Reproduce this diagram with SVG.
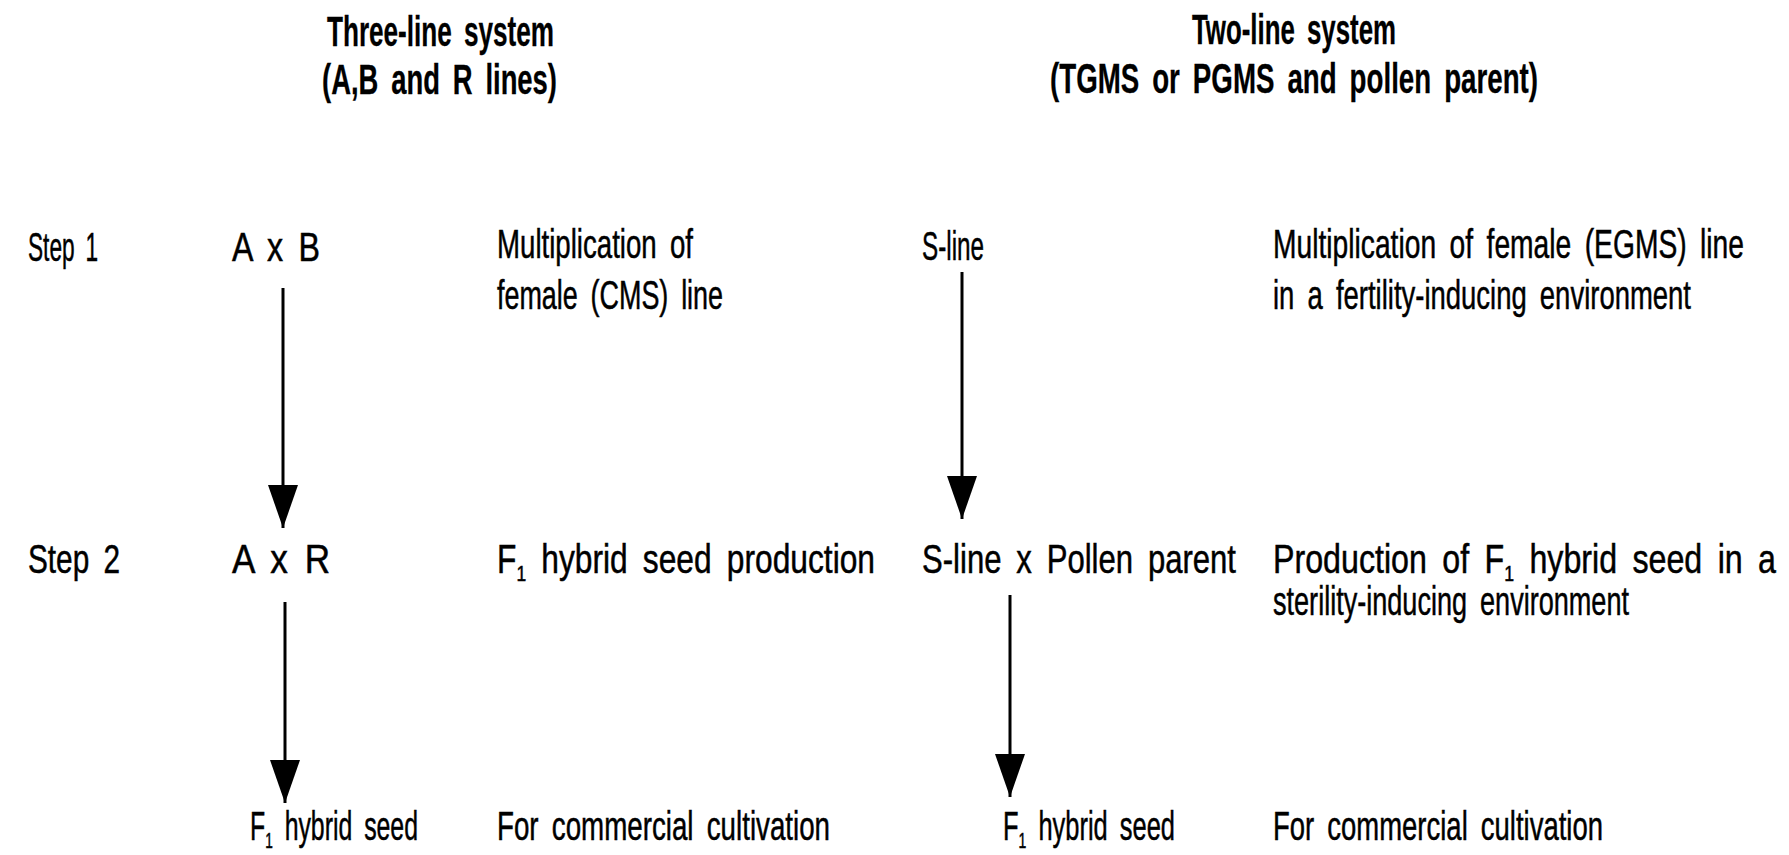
<svg xmlns="http://www.w3.org/2000/svg" width="1789" height="855" viewBox="0 0 1789 855">
  <style>
    .t { font-family: "Liberation Sans", Arial, sans-serif; font-size: 40px; fill: #000; stroke: #000; stroke-width: 0.5px; word-spacing: 8px; }
    .h { font-weight: bold; font-size: 42px; stroke-width: 0.3px; }
    .sub { font-size: 22px; }
    .conn { stroke: #000; stroke-width: 3; fill: none; marker-end: url(#arrow); }
  </style>
  <defs>
    <marker id="arrow" markerUnits="userSpaceOnUse" markerWidth="43" markerHeight="30" viewBox="0 0 43 30" refX="43" refY="15" orient="auto">
      <path d="M0,0 L43,15 L0,30 Z" fill="#000"/>
    </marker>
  </defs>
  <rect width="1789" height="855" fill="#fff"/>

  <g id="header-three-line">
    <text class="t h" x="327" y="46" textLength="227" lengthAdjust="spacingAndGlyphs">Three-line system</text>
    <text class="t h" x="322" y="94" textLength="235" lengthAdjust="spacingAndGlyphs">(A,B and R lines)</text>
  </g>
  <g id="header-two-line">
    <text class="t h" x="1192" y="44" textLength="204" lengthAdjust="spacingAndGlyphs">Two-line system</text>
    <text class="t h" x="1050" y="93" textLength="488" lengthAdjust="spacingAndGlyphs">(TGMS or PGMS and pollen parent)</text>
  </g>

  <g id="step1-label">
    <text class="t" x="28" y="261" textLength="70" lengthAdjust="spacingAndGlyphs">Step 1</text>
  </g>
  <g id="step2-label">
    <text class="t" x="28" y="573" textLength="92" lengthAdjust="spacingAndGlyphs">Step 2</text>
  </g>

  <g id="node-AxB">
    <text class="t" x="232" y="261" textLength="88" lengthAdjust="spacingAndGlyphs">A x B</text>
  </g>
  <g id="desc-AxB">
    <text class="t" x="497" y="258" textLength="196" lengthAdjust="spacingAndGlyphs">Multiplication of</text>
    <text class="t" x="497" y="309" textLength="226" lengthAdjust="spacingAndGlyphs">female (CMS) line</text>
  </g>
  <g id="node-AxR">
    <text class="t" x="232" y="573" textLength="98" lengthAdjust="spacingAndGlyphs">A x R</text>
  </g>
  <g id="desc-AxR">
    <text class="t" x="497" y="573" textLength="378" lengthAdjust="spacingAndGlyphs">F<tspan class="sub" dy="8">1</tspan><tspan dy="-8"> hybrid seed production</tspan></text>
  </g>
  <g id="node-F1-three">
    <text class="t" x="250" y="840" textLength="168" lengthAdjust="spacingAndGlyphs">F<tspan class="sub" dy="8">1</tspan><tspan dy="-8"> hybrid seed</tspan></text>
  </g>
  <g id="desc-F1-three">
    <text class="t" x="497" y="840" textLength="333" lengthAdjust="spacingAndGlyphs">For commercial cultivation</text>
  </g>

  <g id="node-Sline">
    <text class="t" x="922" y="260" textLength="62" lengthAdjust="spacingAndGlyphs">S-line</text>
  </g>
  <g id="desc-Sline">
    <text class="t" x="1273" y="258" textLength="471" lengthAdjust="spacingAndGlyphs">Multiplication of female (EGMS) line</text>
    <text class="t" x="1273" y="309" textLength="418" lengthAdjust="spacingAndGlyphs">in a fertility-inducing environment</text>
  </g>
  <g id="node-Sline-x-pollen">
    <text class="t" x="922" y="573" textLength="314" lengthAdjust="spacingAndGlyphs">S-line x Pollen parent</text>
  </g>
  <g id="desc-Sline-x-pollen">
    <text class="t" x="1273" y="573" textLength="503" lengthAdjust="spacingAndGlyphs">Production of F<tspan class="sub" dy="8">1</tspan><tspan dy="-8"> hybrid seed in a</tspan></text>
    <text class="t" x="1273" y="615" textLength="356" lengthAdjust="spacingAndGlyphs">sterility-inducing environment</text>
  </g>
  <g id="node-F1-two">
    <text class="t" x="1003" y="840" textLength="172" lengthAdjust="spacingAndGlyphs">F<tspan class="sub" dy="8">1</tspan><tspan dy="-8"> hybrid seed</tspan></text>
  </g>
  <g id="desc-F1-two">
    <text class="t" x="1273" y="840" textLength="330" lengthAdjust="spacingAndGlyphs">For commercial cultivation</text>
  </g>

  <g id="connectors">
    <line class="conn" x1="283" y1="288" x2="283" y2="528"/>
    <line class="conn" x1="285" y1="602" x2="285" y2="803"/>
    <line class="conn" x1="962" y1="272" x2="962" y2="519"/>
    <line class="conn" x1="1010" y1="595" x2="1010" y2="797"/>
  </g>
</svg>
